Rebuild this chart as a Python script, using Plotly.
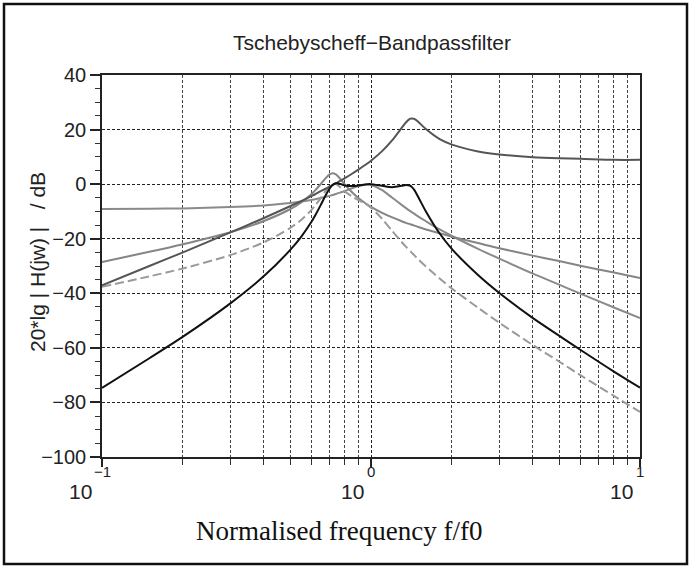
import math
import plotly.graph_objects as go

# ---- data ----
freq = [0.1, 0.15, 0.2, 0.3, 0.4, 0.5, 0.55, 0.6, 0.62, 0.65, 0.68, 0.7, 0.72, 0.74, 0.75,
        0.78, 0.8, 0.85, 0.9, 0.95, 1.0, 1.1, 1.2, 1.3, 1.35, 1.4, 1.42, 1.45, 1.5, 1.6,
        1.8, 2.0, 2.5, 3, 4, 5, 6, 8, 10]

stage_hp = [-37.1, -30.0, -25.0, -17.7, -12.4, -8.1, -6.2, -4.4, -3.7, -2.6,
            -1.6, -1.0, -0.3, 0.3, 0.6, 1.6, 2.2, 3.8, 5.4, 7.0,
            8.6, 12.1, 16.1, 20.6, 22.7, 24.0, 24.1, 23.9, 22.8, 20.2,
            16.5, 14.5, 12.0, 10.9, 9.9, 9.5, 9.3, 8.9, 8.9]

stage_bp = [-28.5, -24.8, -22.0, -17.6, -13.5, -9.2, -6.7, -3.7, -2.3, 0.0,
            2.3, 3.5, 4.0, 3.6, 3.1, 1.2, -0.2, -3.0, -5.2, -6.9,
            -8.3, -10.5, -12.2, -13.6, -14.2, -14.7, -14.9, -15.2, -15.7, -16.6,
            -18.0, -19.3, -21.6, -23.5, -26.2, -28.2, -29.9, -32.4, -34.4]

stage_lp = [-9.1, -9.0, -8.9, -8.4, -7.8, -6.9, -6.4, -5.8, -5.5, -5.1,
            -4.6, -4.3, -4.0, -3.6, -3.4, -2.9, -2.5, -1.5, -0.7, -0.2,
            -0.3, -2.2, -5.0, -7.6, -8.8, -9.9, -10.3, -10.9, -11.9, -13.6,
            -16.6, -19.0, -23.7, -27.3, -32.8, -36.8, -40.1, -45.2, -49.1]

partial_dashed = [-37.6, -33.8, -30.9, -26.0, -21.3, -16.1, -13.1, -9.5, -7.8, -5.1,
                  -2.3, -0.8, 0.0, 0.0, -0.3, -1.7, -2.7, -4.5, -5.9, -7.1,
                  -8.6, -12.7, -17.2, -21.2, -23.0, -24.6, -25.2, -26.1, -27.6, -30.2,
                  -34.6, -38.3, -45.3, -50.8, -59.0, -65.0, -70.0, -77.6, -83.5]

total = [-74.7, -63.8, -55.9, -43.7, -33.7, -24.2, -19.3, -13.9, -11.5, -7.7,
         -3.9, -1.8, -0.3, 0.3, 0.3, -0.1, -0.5, -0.7, -0.5, -0.1,
         0.0, -0.6, -1.1, -0.6, -0.3, -0.6, -1.1, -2.2, -4.8, -10.0,
         -18.1, -23.8, -33.3, -39.9, -49.1, -55.5, -60.7, -68.7, -74.6]

y_ticks = [-100, -80, -60, -40, -20, 0, 20, 40]
x_decades = [0.1, 1, 10]
x_exponents = ["\u22121", "0", "1"]
x_minor = [0.2, 0.3, 0.4, 0.5, 0.6, 0.7, 0.8, 0.9, 2, 3, 4, 5, 6, 7, 8, 9]

title_text = "Tschebyscheff\u2212Bandpassfilter"
x_title = "Normalised frequency f/f0"
y_title = "20*lg | H(jw) |\u00a0\u00a0\u00a0/ dB"

W, H = 691, 567
L, R, T, B = 102, 51, 75, 110
pw, ph = W - L - R, H - T - B

def px2paper_x(px):
    return (px - L) / pw

def px2paper_y(py):
    return (H - B - py) / ph

fig = go.Figure()
spl = dict(shape="spline", smoothing=0.8)
fig.add_trace(go.Scatter(x=freq, y=stage_lp, mode="lines",
                         line=dict(color="#8a8a8a", width=2, **spl)))
fig.add_trace(go.Scatter(x=freq, y=stage_bp, mode="lines",
                         line=dict(color="#858585", width=2, **spl)))
fig.add_trace(go.Scatter(x=freq, y=partial_dashed, mode="lines",
                         line=dict(color="#9a9a9a", width=2, dash="9px,4px", **spl)))
fig.add_trace(go.Scatter(x=freq, y=stage_hp, mode="lines",
                         line=dict(color="#555555", width=2, **spl)))
fig.add_trace(go.Scatter(x=freq, y=total, mode="lines",
                         line=dict(color="#111111", width=2, **spl)))

fig.update_layout(
    width=W, height=H,
    margin=dict(l=L, r=R, t=T, b=B, pad=0),
    paper_bgcolor="white", plot_bgcolor="white",
    showlegend=False,
    font=dict(family="Liberation Sans, Arial, sans-serif", color="#222222"),
)

fig.update_xaxes(
    type="log", range=[-1, 1],
    tickmode="array", tickvals=x_decades, showticklabels=False,
    ticks="outside", ticklen=8, tickwidth=1.5, tickcolor="#222",
    showline=True, linecolor="#222", linewidth=1.5, mirror=True,
    showgrid=True, gridcolor="#222", gridwidth=1.3, griddash="3px,2px",
    zeroline=False,
    minor=dict(tickmode="array", tickvals=x_minor, ticks="outside", ticklen=6,
               tickwidth=1, tickcolor="#333", showgrid=True,
               gridcolor="#444", gridwidth=1, griddash="3px,2px"),
)
fig.update_yaxes(
    range=[-100, 40],
    tickmode="array", tickvals=y_ticks,
    ticks="outside", ticklen=10, tickwidth=1.5, tickcolor="#222",
    tickfont=dict(size=20, family="Liberation Sans, Arial, sans-serif", color="#222"),
    showline=True, linecolor="#222", linewidth=1.5, mirror=True,
    showgrid=True, gridcolor="#222", gridwidth=1.3, griddash="3px,2px",
    zeroline=False,
    minor=dict(dtick=5, ticks="outside", ticklen=5, tickwidth=1, tickcolor="#333",
               showgrid=False),
)

ann = []
# x tick labels: 10 with superscript exponent
for v, e in zip(x_decades, x_exponents):
    shift = -8 if e.startswith("\u2212") else -5
    ann.append(dict(x=math.log10(v), xref="x", y=px2paper_y(491), yref="paper",
                    text="10", showarrow=False, xanchor="right", yanchor="middle",
                    xshift=shift, font=dict(size=21, color="#222")))
    ann.append(dict(x=math.log10(v), xref="x", y=px2paper_y(471), yref="paper",
                    text=e, showarrow=False, xanchor="center", yanchor="middle",
                    xshift=0, font=dict(size=15, color="#222222")))
# title
ann.append(dict(x=px2paper_x(372), xref="paper", y=px2paper_y(43), yref="paper",
                text=title_text, showarrow=False, xanchor="center", yanchor="middle",
                font=dict(size=21, color="#222")))
# x title
ann.append(dict(x=px2paper_x(339), xref="paper", y=px2paper_y(531), yref="paper",
                text=x_title, showarrow=False, xanchor="center", yanchor="middle",
                font=dict(size=27, family="Liberation Serif, Times New Roman, serif", color="#111")))
# y title
ann.append(dict(x=px2paper_x(37), xref="paper", y=px2paper_y(262), yref="paper",
                text=y_title, showarrow=False, xanchor="center", yanchor="middle",
                textangle=-90, font=dict(size=21, color="#222")))
fig.update_layout(annotations=ann)

# outer frame
fig.add_shape(type="rect", xref="paper", yref="paper",
              x0=px2paper_x(4), x1=px2paper_x(687), y0=px2paper_y(564), y1=px2paper_y(4),
              line=dict(color="#111", width=2.5), fillcolor="rgba(0,0,0,0)", layer="above")

fig.write_html("out.html")
